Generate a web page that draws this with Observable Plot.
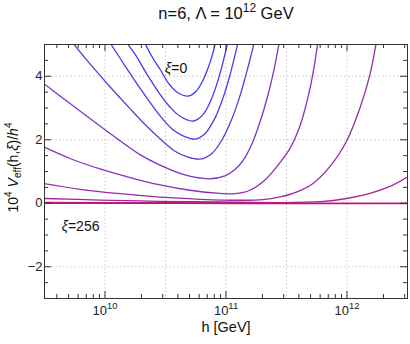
<!DOCTYPE html>
<html>
<head>
<meta charset="utf-8">
<script src="https://cdn.jsdelivr.net/npm/d3@7"></script>
<script src="https://cdn.jsdelivr.net/npm/@observablehq/plot@0.6"></script>
<style>
html,body{margin:0;padding:0;background:#fff;}
</style>
</head>
<body>
<div id="chart"></div>
<script>
// Curves: xi values and line colours
const xi = [0, 1, 2, 4, 8, 16, 32, 64, 128, 256];
const lineColors = ["#3a3aff", "#4939f2", "#5838e6", "#6837d9", "#7a35c9", "#8b31b9", "#9a2ba8", "#aa2496", "#b91b80", "#c6126c"];

// Points: [log10(h / GeV), 10^4 V_eff / h^4]
const curve_xi0 = [[10.331,5.03],[10.397,4.56],[10.455,4.22],[10.521,3.80],[10.603,3.48],[10.686,3.375],[10.752,3.52],[10.810,3.875],[10.851,4.25],[10.884,4.625],[10.913,5.06]];
const curve_xi1 = [[10.184,5.03],[10.256,4.65],[10.331,4.16],[10.455,3.43],[10.537,3.03],[10.620,2.74],[10.730,2.59],[10.810,2.79],[10.876,3.25],[10.934,3.87],[10.975,4.44],[11.012,5.03]];
const curve_xi2 = [[10.046,5.03],[10.165,4.33],[10.289,3.625],[10.455,2.75],[10.554,2.34],[10.645,2.125],[10.744,2.02],[10.826,2.19],[10.909,2.68],[10.975,3.31],[11.033,4.04],[11.074,4.66],[11.099,5.06]];
const curve_xi4 = [[9.737,5.03],[9.876,4.39],[10.041,3.67],[10.207,2.98],[10.331,2.48],[10.455,2.03],[10.579,1.64],[10.686,1.45],[10.785,1.39],[10.884,1.57],[10.967,2.0],[11.050,2.67],[11.116,3.39],[11.165,4.05],[11.198,4.52],[11.231,5.03]];
const curve_xi8 = [[9.49,3.78],[9.711,3.14],[9.917,2.55],[10.113,2.0],[10.289,1.53],[10.455,1.20],[10.661,0.89],[10.860,0.77],[10.992,0.86],[11.074,1.06],[11.140,1.34],[11.215,1.875],[11.281,2.56],[11.347,3.41],[11.397,4.22],[11.438,5.03]];
const curve_xi16 = [[9.49,1.78],[9.711,1.41],[9.959,1.08],[10.207,0.81],[10.455,0.58],[10.702,0.41],[10.950,0.31],[11.074,0.30],[11.198,0.41],[11.322,0.73],[11.446,1.28],[11.529,1.73],[11.612,2.44],[11.678,3.34],[11.719,4.09],[11.760,5.09]];
const curve_xi32 = [[9.49,0.62],[9.793,0.44],[10.124,0.30],[10.455,0.19],[10.785,0.125],[11.116,0.094],[11.322,0.125],[11.446,0.20],[11.587,0.36],[11.719,0.625],[11.860,1.16],[11.998,1.97],[12.107,3.0],[12.190,4.06],[12.240,5.03]];
const curve_xi64 = [[9.49,0.15],[9.959,0.10],[10.455,0.06],[10.950,0.04],[11.446,0.02],[11.777,0.05],[11.998,0.15],[12.190,0.31],[12.355,0.53],[12.5,0.83]];
const curve_xi128 = [[9.49,0.03],[10.5,0.015],[11.5,0.005],[12.5,0.005]];
const curve_xi256 = [[9.49,0.0],[10.5,-0.005],[11.5,-0.008],[12.5,-0.01]];

// Axes: ticks, grid and tick labels
const xDomain = [3.1623e9, 3.1623e12];
const yDomain = [-3, 5];
const xMajor = [1e10, 1e11, 1e12];
const xMinor = [4e9,5e9,6e9,7e9,8e9,9e9, 2e10,3e10,4e10,5e10,6e10,7e10,8e10,9e10, 2e11,3e11,4e11,5e11,6e11,7e11,8e11,9e11, 2e12,3e12];
const xGrid = [1e10, 3.1623e10, 1e11, 3.1623e11, 1e12];
const yMajor = [-2, 0, 2, 4];
const yMinor = [-2.5,-1.5,-1,-0.5,0.5,1,1.5,2.5,3,3.5,4.5];
const yGrid = [-2, 2, 4];

// Texts
const titleText = "n=6, Λ = 10^{12} GeV";
const xTitle = "h [GeV]";
const yTitle = "10^{4} *V*_{eff}(h,*ξ*)/*h*^{4}";
const curveLabels = [{lh: 10.496, v: 4.23, text: "*ξ*=0"}, {lh: 9.642, v: -0.73, text: "*ξ*=256"}];

const curves = [curve_xi0, curve_xi1, curve_xi2, curve_xi4, curve_xi8, curve_xi16, curve_xi32, curve_xi64, curve_xi128, curve_xi256];
const rows = curves.flatMap((c, i) => c.map(([lh, v]) => ({h: 10 ** lh, v, xi: xi[i]})));

const W = 410, H = 344, mt = 44, mr = 3, mb = 46, ml = 44;
const fw = W - ml - mr, fh = H - mt - mb;
const ink = "#333";

const chart = Plot.plot({
  width: W, height: H,
  marginTop: mt, marginRight: mr, marginBottom: mb, marginLeft: ml,
  style: {fontFamily: "'Liberation Sans', Arial, sans-serif", fontSize: "13px", background: "#fff", color: "#222"},
  x: {type: "log", domain: xDomain, label: null},
  y: {domain: yDomain, label: null},
  color: {type: "ordinal", domain: xi, range: lineColors},
  marks: [
    Plot.ruleX(xGrid, {x: d => d, stroke: "#bdbdbd", strokeDasharray: "1.2,2.6", strokeWidth: 1}),
    Plot.ruleY(yGrid, {y: d => d, stroke: "#bdbdbd", strokeDasharray: "1.2,2.6", strokeWidth: 1}),
    Plot.line(rows, {x: "h", y: "v", z: "xi", stroke: "xi", curve: "catmull-rom", clip: true, strokeWidth: 1.3}),
    Plot.frame({stroke: ink, strokeWidth: 1}),
    Plot.tickX(xMajor, {x: d => d, insetTop: fh - 7, stroke: ink}),
    Plot.tickX(xMajor, {x: d => d, insetBottom: fh - 7, stroke: ink}),
    Plot.tickX(xMinor, {x: d => d, insetTop: fh - 4, stroke: ink}),
    Plot.tickX(xMinor, {x: d => d, insetBottom: fh - 4, stroke: ink}),
    Plot.tickY(yMajor, {y: d => d, insetRight: fw - 7, stroke: ink}),
    Plot.tickY(yMajor, {y: d => d, insetLeft: fw - 7, stroke: ink}),
    Plot.tickY(yMinor, {y: d => d, insetRight: fw - 4, stroke: ink}),
    Plot.tickY(yMinor, {y: d => d, insetLeft: fw - 4, stroke: ink}),
    Plot.axisX(xMajor, {anchor: "bottom", tickSize: 0, tickPadding: 7, label: null, fontSize: 13,
      tickFormat: d => `10^{${Math.round(Math.log10(d))}}`}),
    Plot.axisY(yMajor, {anchor: "left", tickSize: 0, tickPadding: 2, label: null, fontSize: 13,
      tickFormat: d => (d < 0 ? "\u2212" + Math.abs(d) : String(d))}),
    Plot.text([titleText], {frameAnchor: "top", dy: -25.5, lineAnchor: "bottom", text: d => d, fontSize: 16.5, fill: "#111"}),
    Plot.text([xTitle], {frameAnchor: "bottom", dy: 33, lineAnchor: "bottom", text: d => d, fontSize: 14.5, fill: "#111"}),
    Plot.text([yTitle], {frameAnchor: "left", textAnchor: "middle", dx: -27, dy: -4, rotate: -90, lineAnchor: "bottom", text: d => d, fontSize: 14, fill: "#111"}),
    Plot.text(curveLabels, {x: d => 10 ** d.lh, y: "v", text: "text", textAnchor: "start", fontSize: 14, fill: "#111"})
  ]
});

document.getElementById("chart").appendChild(chart);

// Turn ^{..}, _{..} and *..* markup into tspans (superscript, subscript, italic)
function richify(el) {
  const src = el.textContent;
  if (!/[\^_*]/.test(src)) return;
  const fs = parseFloat(getComputedStyle(el).fontSize) || 13;
  el.textContent = "";
  const ns = "http://www.w3.org/2000/svg";
  const re = /\^\{([^}]*)\}|_\{([^}]*)\}|\*([^*]+)\*|([^^_*]+)/g;
  let cur = 0, m;
  while ((m = re.exec(src))) {
    const t = document.createElementNS(ns, "tspan");
    let target = 0;
    if (m[1] !== undefined) { t.textContent = m[1]; target = -0.42 * fs; t.setAttribute("font-size", (0.72 * fs).toFixed(1)); }
    else if (m[2] !== undefined) { t.textContent = m[2]; target = 0.26 * fs; t.setAttribute("font-size", (0.72 * fs).toFixed(1)); }
    else if (m[3] !== undefined) { t.textContent = m[3]; t.setAttribute("font-style", "italic"); }
    else t.textContent = m[4];
    if (Math.abs(target - cur) > 1e-6) { t.setAttribute("dy", (target - cur).toFixed(2)); cur = target; }
    el.appendChild(t);
  }
}
chart.querySelectorAll("text").forEach(richify);
</script>
</body>
</html>
